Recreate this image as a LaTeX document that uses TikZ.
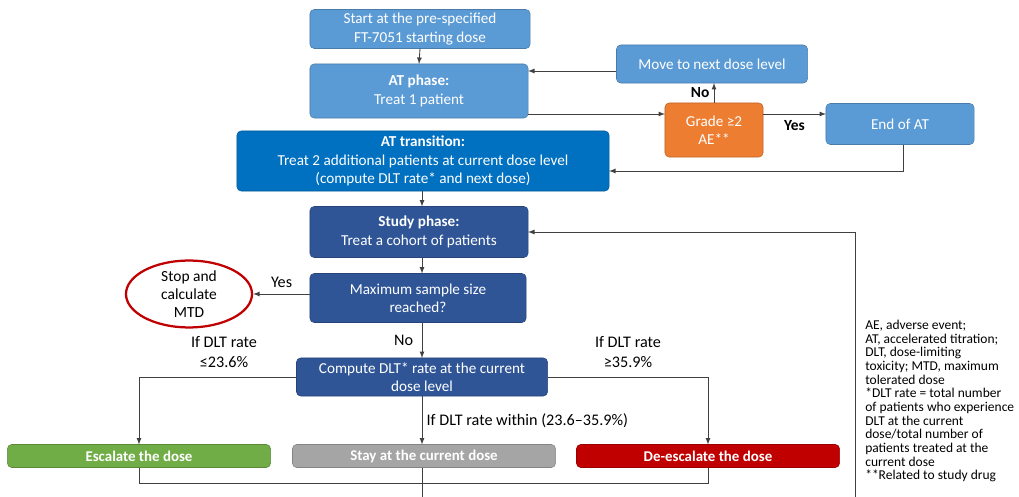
\documentclass[tikz,border=0pt]{standalone}
\usepackage{fontspec}
\setmainfont{Carlito}
\usepackage{tikz}
\usetikzlibrary{shapes.geometric}
\definecolor{lightblue}{HTML}{5B9BD5}
\definecolor{midblue}{HTML}{0070C0}
\definecolor{darkblue}{HTML}{2F5597}
\definecolor{gradeorange}{HTML}{ED7D31}
\definecolor{escgreen}{HTML}{70AD47}
\definecolor{staygray}{HTML}{A5A5A5}
\definecolor{deescred}{HTML}{C00000}

\begin{document}
\begin{tikzpicture}[x=0.025cm, y=-0.025cm,
  box/.style={rectangle, rounded corners=3pt, draw=#1!80!black, fill=#1, text=white, align=center, inner sep=0pt, outer sep=0pt, font=\fontsize{10.8}{13}\selectfont},
  bottombox/.style={box=#1, minimum width=6.575cm, minimum height=0.575cm, font=\fontsize{10.6}{12}\selectfont\bfseries},
  lbl/.style={font=\fontsize{11.5}{13.7}\selectfont, align=center, inner sep=0pt},
  ln/.style={draw=black!75, line width=0.6pt},
  arr/.style={ln, -latex}]
  \useasboundingbox (0,0) rectangle (1019,497);
  % AT part
  \node[box=lightblue, minimum width=5.5cm, minimum height=0.975cm] (start) at (420,29) {Start at the pre-specified\\FT-7051 starting dose};
  \node[box=lightblue, minimum width=5.45cm, minimum height=1.35cm] (atphase) at (419,91) {\textbf{AT phase:}\\Treat 1 patient};
  \node[box=midblue, minimum width=9.3cm, minimum height=1.5cm] (attrans) at (423,161) {\textbf{AT transition:}\\Treat 2 additional patients at current dose level\\(compute DLT rate* and next dose)};
  \node[box=lightblue, minimum width=4.775cm, minimum height=0.95cm] (move) at (712,64) {Move to next dose level};
  \node[box=gradeorange, minimum width=2.45cm, minimum height=1.35cm] (grade) at (714,130) {Grade ≥2\\AE**};
  \node[box=lightblue, minimum width=3.7cm, minimum height=1.025cm] (endat) at (900,124) {End of AT};
  % study part
  \node[box=darkblue, minimum width=5.45cm, minimum height=1.275cm] (study) at (419,232) {\textbf{Study phase:}\\Treat a cohort of patients};
  \node[box=darkblue, minimum width=5.4cm, minimum height=1.225cm] (maxss) at (418,298) {Maximum sample size\\reached?};
  \node[ellipse, draw=deescred, line width=1.6pt, fill=white, minimum width=3.15cm, minimum height=1.6cm, lbl, font=\fontsize{11}{13}\selectfont] (stop) at (189,294) {Stop and\\calculate\\MTD};
  \node[box=darkblue, minimum width=6.275cm, minimum height=0.95cm] (compute) at (422,377) {Compute DLT* rate at the current\\dose level};
  \node[bottombox=escgreen] (escalate) at (139,456) {Escalate the dose};
  \node[bottombox=staygray] (stay) at (424,456) {Stay at the current dose};
  \node[bottombox=deescred] (deesc) at (708,456) {De-escalate the dose};
  \coordinate (stayout) at (422,497);
  \coordinate (loopin) at (855,497);

  \draw[arr] (start.south) -- (atphase.north);
  \draw[arr] (atphase.east |- 0,114) -- (grade.west |- 0,114);
  \draw[arr] (grade.north) -- node[lbl, left=3pt, font=\fontsize{11}{13}\selectfont\bfseries]{No} (grade.north |- move.south);
  \draw[arr] (move.west |- 0,71) -- (atphase.east |- 0,71);
  \draw[arr] (grade.east |- 0,114) -- node[lbl, below=4pt, font=\fontsize{11}{13}\selectfont\bfseries]{Yes} (endat.west |- 0,114);
  \draw[arr] (endat.south -| 903,0) -- (903,171) -- (attrans.east |- 0,171);
  \draw[arr] (attrans.south -| 422,0) -- (study.north -| 422,0);
  \draw[arr] (study.south -| 422,0) -- (maxss.north -| 422,0);
  \draw[arr] (maxss.west |- stop) -- node[lbl, above=4pt]{Yes} (stop.east);
  \draw[arr] (maxss.south -| 422,0) -- node[lbl, left=6pt]{No} (compute.north -| 422,0);
  \draw[arr] (compute.west) -| (escalate.north);
  \draw[arr] (compute.east) -| (deesc.north);
  \draw[arr] (compute.south -| 422,0) -- node[lbl, right=3pt]{If DLT rate within (23.6–35.9\%)} (stay.north -| 422,0);
  \draw[ln] (escalate.south) -- (escalate.south |- 0,483) -| (deesc.south);
  \draw[ln] (stay.south -| stayout) -- (stayout);
  \draw[arr] (loopin) |- (study.east);
  \node[lbl] (lowrate) at (224,352) {If DLT rate\\≤23.6\%};
  \node[lbl] (highrate) at (628,352) {If DLT rate\\≥35.9\%};
  % legend
  \node[anchor=north west, align=left, inner sep=0pt, font=\fontsize{9.6}{9.7}\selectfont] (legend) at (865,320) {AE, adverse event;\\AT, accelerated titration;\\DLT, dose-limiting\\toxicity; MTD, maximum\\tolerated dose\\*DLT rate = total number\\of patients who experience\\DLT at the current\\dose/total number of\\patients treated at the\\current dose\\**Related to study drug};
\end{tikzpicture}
\end{document}
